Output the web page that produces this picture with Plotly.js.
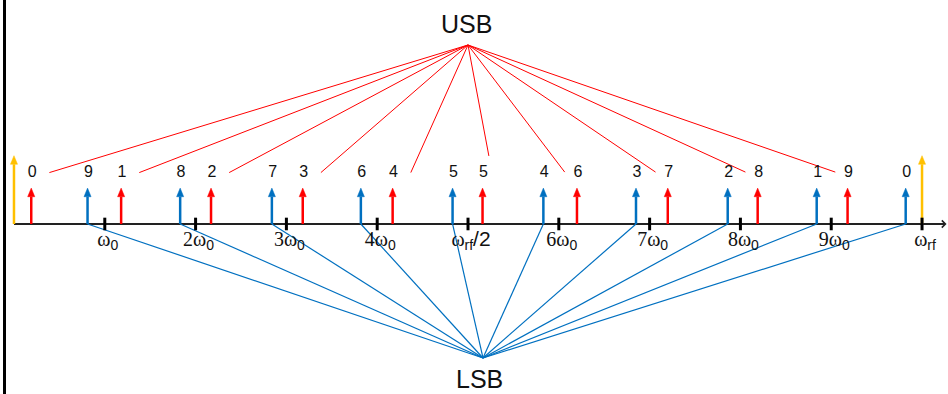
<!DOCTYPE html>
<html><head><meta charset="utf-8">
<script src="https://cdn.plot.ly/plotly-3.0.1.min.js"></script>
<style>html,body{margin:0;padding:0;background:#fff}#chart{width:948px;height:394px}</style>
</head><body><div id="chart"></div>
<script>
// Frequencies in units of ω0 (ωrf = 10·ω0)
const usbIndex = [0, 1, 2, 3, 4, 5, 6, 7, 8, 9];
const usbFreq  = [0.19, 1.18, 2.17, 3.18, 4.17, 5.16, 6.20, 7.20, 8.19, 9.18];
const usbAmp   = [0.52, 0.52, 0.52, 0.52, 0.52, 0.52, 0.52, 0.52, 0.52, 0.52];
const lsbIndex = [9, 8, 7, 6, 5, 4, 3, 2, 1, 0];
const lsbFreq  = [0.81, 1.83, 2.84, 3.82, 4.83, 5.83, 6.85, 7.86, 8.84, 9.82];
const lsbAmp   = [0.52, 0.52, 0.52, 0.52, 0.52, 0.52, 0.52, 0.52, 0.52, 0.52];
const carrierFreq = [0, 10];
const carrierAmp  = [0.99, 0.99];
const tickVals = [1, 2, 3, 4, 5, 6, 7, 8, 9, 10];
const SUB = s => '<sub><span style="font-family:Liberation Sans">' + s + '</span></sub>';
const tickText = ['ω' + SUB('0'), '2ω' + SUB('0'), '3ω' + SUB('0'), '4ω' + SUB('0'),
  'ω' + SUB('rf') + '<span style="font-family:Liberation Sans;font-size:21px">/2</span>',
  '6ω' + SUB('0'), '7ω' + SUB('0'), '8ω' + SUB('0'), '9ω' + SUB('0'), 'ω' + SUB('rf')];

const RED = '#FF0000', BLUE = '#0070C0', GOLD = '#FFC000';
const XR = [-0.154, 10.286], YR = [-2.464, 3.246];
const headH = 0.125, headW = 0.039;
const usbApex = {x: 5.0, y: 2.594};
const lsbApex = {x: 5.165, y: -1.942};

function stems(xs, amps, color) {
  const x = [], y = [];
  xs.forEach((v, i) => { x.push(v, v, null); y.push(0, amps[i] - headH, null); });
  return {type: 'scatter', mode: 'lines', x, y, line: {color, width: 2.5}, hoverinfo: 'skip'};
}
function heads(xs, amps, color) {
  const x = [], y = [];
  xs.forEach((v, i) => {
    const a = amps[i];
    x.push(v - headW, v, v + headW, v - headW, null);
    y.push(a - headH, a, a - headH, a - headH, null);
  });
  return {type: 'scatter', mode: 'lines', x, y, fill: 'toself', fillcolor: color,
          line: {color, width: 0.5}, hoverinfo: 'skip'};
}
function labels(xs, idx, dy) {
  return {type: 'scatter', mode: 'text', x: xs.map(v => v + 0.01), y: xs.map(() => dy),
          text: idx.map(String), textposition: 'middle center',
          textfont: {family: 'Liberation Sans', size: 16, color: '#111'}, hoverinfo: 'skip'};
}

// Red lines from USB apex toward each upper sideband label
const redX = [], redY = [];
usbFreq.forEach(f => {
  let ex, ey;
  if (Math.abs(f - usbApex.x) < 0.5) { ex = f + 0.07; ey = 0.986; }
  else if (f < usbApex.x) { ex = f + 0.2; ey = 0.745; }
  else { ex = f - 0.135; ey = 0.752; }
  redX.push(usbApex.x, ex, null); redY.push(usbApex.y, ey, null);
});
// Blue lines from LSB apex to each lower sideband foot
const blueX = [], blueY = [];
lsbFreq.forEach(f => { blueX.push(lsbApex.x, f, null); blueY.push(lsbApex.y, 0, null); });

const traces = [
  {type: 'scatter', mode: 'lines', x: redX, y: redY, line: {color: RED, width: 1}, hoverinfo: 'skip'},
  {type: 'scatter', mode: 'lines', x: blueX, y: blueY, line: {color: BLUE, width: 1.2}, hoverinfo: 'skip'},
  stems(carrierFreq, carrierAmp, GOLD), heads(carrierFreq, carrierAmp, GOLD),
  stems(usbFreq, usbAmp, RED), heads(usbFreq, usbAmp, RED),
  stems(lsbFreq, lsbAmp, BLUE), heads(lsbFreq, lsbAmp, BLUE),
  {type: 'scatter', mode: 'markers', x: tickVals, y: tickVals.map(() => 0),
   marker: {symbol: 'line-ns', size: 9, line: {width: 3, color: '#000'}}, hoverinfo: 'skip'},
  labels(usbFreq, usbIndex, 0.735),
  labels(lsbFreq, lsbIndex, 0.735)
];

const layout = {
  width: 948, height: 394,
  margin: {l: 0, r: 0, t: 0, b: 0},
  paper_bgcolor: '#fff', plot_bgcolor: '#fff',
  showlegend: false,
  xaxis: {range: XR, anchor: 'free', position: 170 / 394, showgrid: false, zeroline: false,
          showline: false, ticks: '', tickvals: tickVals, ticktext: tickText,
          ticklabelshift: 3, ticklabelstandoff: 1,
          tickfont: {family: 'Liberation Serif', size: 20, color: '#111'}, fixedrange: true},
  yaxis: {range: YR, visible: false, fixedrange: true},
  shapes: [
    {type: 'line', xref: 'paper', yref: 'paper', x0: 4.5 / 948, x1: 4.5 / 948, y0: 0, y1: 1,
     line: {color: '#000', width: 3}},
    {type: 'line', xref: 'x', yref: 'y', x0: 0, x1: 10.25, y0: 0, y1: 0,
     line: {color: '#222', width: 2}, layer: 'below'}
  ],
  annotations: [
    {x: 10.27, y: 0, ax: 10.0, ay: 0, axref: 'x', ayref: 'y', xref: 'x', yref: 'y',
     showarrow: true, arrowhead: 4, arrowsize: 0.7, arrowwidth: 2, arrowcolor: '#222', text: ''},
    {x: 4.98, y: 2.9, xref: 'x', yref: 'y', text: 'USB', showarrow: false,
     font: {family: 'Liberation Sans', size: 25, color: '#111'}},
    {x: 5.13, y: -2.246, xref: 'x', yref: 'y', text: 'LSB', showarrow: false,
     font: {family: 'Liberation Sans', size: 25, color: '#111'}}
  ]
};
Plotly.newPlot('chart', traces, layout, {displayModeBar: false, staticPlot: true});
</script></body></html>
